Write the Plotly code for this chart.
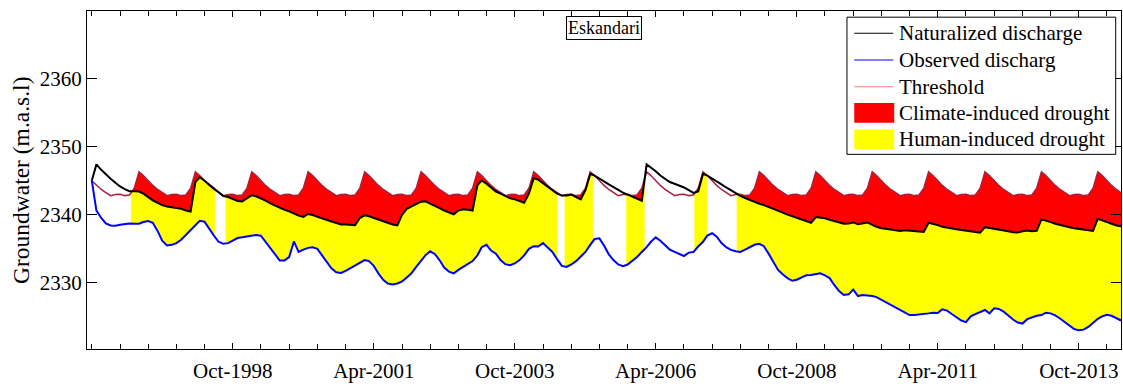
import numpy as np
import pandas as pd
import plotly.graph_objects as go

# Monthly groundwater levels (m.a.s.l), Eskandari aquifer, from April 1996
naturalized = [
    2345.0, 2347.4, 2346.6, 2345.9, 2345.3, 2344.7, 2344.15, 2343.75, 2343.45, 2343.45,
    2343.4, 2343.1, 2342.6, 2342.1, 2341.75, 2341.4, 2341.2, 2341.1, 2341.05, 2340.85,
    2340.6, 2340.45, 2344.8, 2345.5, 2345.0, 2344.45, 2343.85, 2343.3, 2342.75, 2342.6,
    2342.35, 2342.0, 2341.95, 2342.4, 2342.85, 2342.7, 2342.4, 2342.05, 2341.65, 2341.3,
    2341.0, 2340.7, 2340.5, 2340.15, 2339.85, 2339.65, 2340.1, 2339.95, 2339.75, 2339.45,
    2339.2, 2338.95, 2338.7, 2338.55, 2338.55, 2338.5, 2338.45, 2339.5, 2339.9, 2339.75,
    2339.5, 2339.2, 2338.95, 2338.75, 2338.55, 2338.4, 2339.95, 2340.85, 2341.2, 2341.6,
    2341.9, 2341.95, 2341.65, 2341.3, 2340.95, 2340.6, 2340.35, 2340.05, 2340.6, 2340.8,
    2340.7, 2340.6, 2344.3, 2345.05, 2344.55, 2344.05, 2343.4, 2343.1, 2342.75, 2342.4,
    2342.25, 2342.0, 2341.75, 2343.1, 2345.35, 2345.15, 2344.65, 2344.05, 2343.6, 2343.1,
    2342.8, 2342.8, 2342.95, 2342.65, 2342.25, 2343.6, 2346.0, 2345.75, 2345.25, 2344.9,
    2344.45, 2344.05, 2343.6, 2343.25, 2342.95, 2342.65, 2342.35, 2342.05, 2347.4, 2346.95,
    2346.4, 2345.75, 2345.2, 2344.8, 2344.55, 2344.3, 2344.0, 2343.6, 2343.2, 2343.4,
    2346.0, 2345.75, 2345.35, 2344.95, 2344.45, 2344.0, 2343.6, 2343.1, 2342.75, 2342.45,
    2342.15, 2341.9, 2341.6, 2341.4, 2341.15, 2340.85, 2340.55, 2340.3, 2340.0, 2339.75,
    2339.6, 2339.35, 2339.1, 2338.8, 2339.65, 2339.6, 2339.45, 2339.25, 2339.05, 2338.9,
    2338.65, 2338.7, 2338.85, 2338.6, 2338.7, 2338.85, 2338.5, 2338.2, 2338.0, 2337.85,
    2337.8, 2337.7, 2337.6, 2337.7, 2337.65, 2337.6, 2337.5, 2337.45, 2338.8, 2338.65,
    2338.45, 2338.2, 2338.05, 2337.9, 2337.85, 2337.75, 2337.65, 2337.55, 2337.45, 2337.35,
    2338.15, 2338.05, 2337.95, 2337.85, 2337.7, 2337.55, 2337.4, 2337.35, 2337.55, 2337.65,
    2337.55, 2337.6, 2339.3, 2339.15, 2338.9, 2338.65, 2338.45, 2338.3, 2338.15, 2338.0,
    2337.9, 2337.75, 2337.65, 2337.6, 2339.4, 2339.2, 2338.9, 2338.65, 2338.4, 2338.3,
]

observed = [
    2345.0, 2340.6, 2339.5, 2338.7, 2338.4, 2338.35, 2338.5, 2338.6, 2338.7, 2338.65,
    2338.65, 2338.9, 2339.05, 2338.8, 2337.6, 2336.15, 2335.45, 2335.55, 2335.8, 2336.3,
    2337.0, 2337.75, 2338.55, 2339.1, 2338.95, 2337.85, 2336.9, 2336.0, 2335.7, 2335.8,
    2336.15, 2336.55, 2336.65, 2336.75, 2336.9, 2337.0, 2336.9, 2336.0, 2335.05, 2334.0,
    2333.25, 2333.25, 2333.75, 2336.05, 2334.5, 2334.85, 2335.1, 2335.2, 2334.95, 2334.0,
    2332.95, 2332.1, 2331.5, 2331.4, 2331.7, 2332.1, 2332.55, 2332.95, 2333.3, 2333.15,
    2332.45, 2331.35, 2330.4, 2329.85, 2329.7, 2329.85, 2330.15, 2330.75, 2331.35, 2332.3,
    2333.15, 2334.0, 2334.6, 2334.2, 2333.3, 2332.2, 2331.6, 2331.35, 2331.85, 2332.3,
    2332.65, 2333.15, 2334.0, 2335.2, 2335.55, 2334.7, 2334.25, 2333.3, 2332.7, 2332.55,
    2332.8, 2333.3, 2334.0, 2334.95, 2335.35, 2335.3, 2335.8, 2335.2, 2334.5, 2333.45,
    2332.45, 2332.3, 2332.65, 2333.15, 2333.75, 2334.5, 2335.55, 2336.4, 2336.5, 2335.45,
    2334.15, 2333.3, 2332.65, 2332.4, 2332.65, 2333.15, 2333.75, 2334.5, 2335.2, 2336.0,
    2336.65, 2336.15, 2335.45, 2334.85, 2334.5, 2334.15, 2333.9, 2334.4, 2334.5, 2335.3,
    2336.0, 2336.9, 2337.25, 2336.75, 2335.8, 2335.2, 2334.8, 2334.6, 2334.5, 2334.85,
    2335.2, 2335.55, 2335.7, 2335.35, 2334.25, 2333.15, 2331.85, 2331.2, 2330.65, 2330.25,
    2330.4, 2330.75, 2331.05, 2331.1, 2331.2, 2331.35, 2331.05, 2330.65, 2329.6, 2328.75,
    2328.15, 2328.25, 2328.95, 2328.0, 2328.15, 2328.1, 2328.0, 2327.85, 2327.5, 2327.15,
    2326.7, 2326.35, 2325.95, 2325.6, 2325.2, 2325.2, 2325.25, 2325.35, 2325.45, 2325.55,
    2325.5, 2326.05, 2325.85, 2325.35, 2324.9, 2324.4, 2324.15, 2325.0, 2325.35, 2325.6,
    2325.95, 2325.45, 2326.2, 2326.1, 2325.7, 2325.15, 2324.55, 2324.1, 2323.95, 2324.6,
    2324.9, 2325.1, 2325.2, 2325.55, 2325.45, 2325.15, 2324.7, 2324.2, 2323.65, 2323.15,
    2322.95, 2323.05, 2323.45, 2324.05, 2324.65, 2325.0, 2325.25, 2325.1, 2324.75, 2324.4,
]

# Variable (calendar-month) drought threshold
threshold_by_month = {
    1: 2343.9, 2: 2346.3, 3: 2345.75, 4: 2345.0, 5: 2344.3, 6: 2343.7,
    7: 2343.25, 8: 2342.8, 9: 2342.95, 10: 2343.0, 11: 2342.8, 12: 2342.9,
}

# Drought events of the observed series (start, end)
drought_periods = [
    ("1996-12-10", "1998-06-07"),
    ("1998-08-16", "2004-07-01"),
    ("2004-08-19", "2005-02-18"),
    ("2005-09-22", "2006-01-19"),
    ("2006-12-07", "2007-02-26"),
    ("2007-09-07", "2014-07-01"),
]

major_ticks = ["1998-10-01", "2001-04-01", "2003-10-01", "2006-04-01",
               "2008-10-01", "2011-04-01", "2013-10-01"]
y_ticks = [2330, 2340, 2350, 2360]

dates = pd.date_range("1996-04-01", periods=len(naturalized), freq="MS")
threshold = [threshold_by_month[d.month] for d in dates]

t_num = np.array([d.value for d in dates], dtype=float)
nat_a = np.array(naturalized, dtype=float)
obs_a = np.array(observed, dtype=float)
thr_a = np.array(threshold, dtype=float)


def period_grid(start, end):
    s, e = pd.Timestamp(start), pd.Timestamp(end)
    inner = [d.value for d in dates if s.value < d.value < e.value]
    return np.array([s.value] + inner + [e.value], dtype=float)


def with_crossings(xn):
    # add the points where naturalized crosses the threshold
    out = [xn[0]]
    for a, b in zip(xn[:-1], xn[1:]):
        d0 = np.interp(a, t_num, nat_a) - np.interp(a, t_num, thr_a)
        d1 = np.interp(b, t_num, nat_a) - np.interp(b, t_num, thr_a)
        if d0 * d1 < 0:
            out.append(a + d0 / (d0 - d1) * (b - a))
        out.append(b)
    return np.array(out)


def to_dates(xn):
    return list(pd.to_datetime(xn.astype(np.int64)))


fig = go.Figure()

# Human-induced drought: between naturalized and observed levels
for s, e in drought_periods:
    xn = period_grid(s, e)
    top = np.interp(xn, t_num, nat_a)
    bot = np.interp(xn, t_num, obs_a)
    xd = to_dates(xn)
    fig.add_trace(go.Scatter(
        x=xd + xd[::-1], y=list(top) + list(bot[::-1]),
        fill="toself", fillcolor="#FFFF00", mode="lines",
        line=dict(width=0), hoverinfo="skip", showlegend=False))

# Climate-induced drought: naturalized level below threshold
for s, e in drought_periods:
    xn = with_crossings(period_grid(s, e))
    thr = np.interp(xn, t_num, thr_a)
    nat = np.minimum(np.interp(xn, t_num, nat_a), thr)
    xd = to_dates(xn)
    fig.add_trace(go.Scatter(
        x=xd + xd[::-1], y=list(thr) + list(nat[::-1]),
        fill="toself", fillcolor="#FF0000", mode="lines",
        line=dict(width=0), hoverinfo="skip", showlegend=False))

fig.add_trace(go.Scatter(x=dates, y=threshold, mode="lines",
                         line=dict(color="#A8203C", width=1.5),
                         name="Threshold", showlegend=False))
fig.add_trace(go.Scatter(x=dates, y=naturalized, mode="lines",
                         line=dict(color="black", width=2),
                         name="Naturalized discharge", showlegend=False))
fig.add_trace(go.Scatter(x=dates, y=observed, mode="lines",
                         line=dict(color="#0000FF", width=2),
                         name="Observed discharg", showlegend=False))

W, H = 1123, 384
L, R, T, B = 87, 1, 11, 28
PW, PH = W - L - R, H - T - B


def px(x):
    return (x - L) / PW


def py(y):
    return (H - B - y) / PH


shapes = [dict(type="rect", xref="paper", yref="paper",
               x0=px(847.7), x1=px(1116.7), y0=py(157.3), y1=py(17.3),
               line=dict(color="black", width=1), fillcolor="white", layer="above")]
legend_rows = [
    ("Naturalized discharge", "line", "black", 33.7),
    ("Observed discharg", "line", "#0000FF", 61.0),
    ("Threshold", "line", "#F08080", 88.3),
    ("Climate-induced drought", "box", "#FF0000", 115.0),
    ("Human-induced drought", "box", "#FFFF00", 142.0),
]
annotations = []
for label, kind, color, yc in legend_rows:
    if kind == "line":
        shapes.append(dict(type="line", xref="paper", yref="paper",
                           x0=px(855), x1=px(894), y0=py(yc), y1=py(yc),
                           line=dict(color=color, width=1.2), layer="above"))
    else:
        shapes.append(dict(type="rect", xref="paper", yref="paper",
                           x0=px(855), x1=px(895), y0=py(yc + 10), y1=py(yc - 10),
                           line=dict(width=0), fillcolor=color, layer="above"))
    annotations.append(dict(text=label, x=px(898), y=py(yc), xref="paper", yref="paper",
                            xanchor="left", yanchor="middle", showarrow=False,
                            font=dict(size=21, color="black")))

annotations.append(dict(text="Eskandari", x=0.5, y=py(28.7), xref="paper", yref="paper",
                        xanchor="center", yanchor="middle", showarrow=False,
                        font=dict(size=18, color="black"),
                        bordercolor="black", borderwidth=1, borderpad=1,
                        bgcolor="white"))

# y-axis title
annotations.append(dict(text="Groundwater (m.a.s.l)", x=px(21), y=0.5,
                        xref="paper", yref="paper", textangle=-90,
                        xanchor="center", yanchor="middle", showarrow=False,
                        font=dict(size=23.5, color="black")))

fig.update_layout(
    width=W, height=H,
    margin=dict(l=L, r=R, t=T, b=B),
    paper_bgcolor="white", plot_bgcolor="white",
    font=dict(family="Liberation Serif", size=21, color="black"),
    showlegend=False,
    shapes=shapes, annotations=annotations,
    xaxis=dict(
        type="date", range=["1996-03-01", "2014-07-01"],
        tickmode="array", tickvals=major_ticks, tickformat="%b-%Y",
        ticks="inside", ticklen=6, tickcolor="black", ticklabelstandoff=3,
        minor=dict(tickmode="array",
                   tickvals=list(pd.date_range("1996-04-01", "2014-04-01", freq="6MS")),
                   ticks="inside", ticklen=5, tickcolor="black", showgrid=False),
        showline=True, linecolor="black", linewidth=1, mirror="ticks",
        showgrid=False, zeroline=False,
    ),
    yaxis=dict(
        range=[2320.2, 2370], tickmode="array", tickvals=y_ticks,
        ticks="inside", ticklen=10, tickcolor="black",
        showline=True, linecolor="black", linewidth=1, mirror="ticks",
        showgrid=False, zeroline=False,
    ),
)

fig.write_html("out.html")
